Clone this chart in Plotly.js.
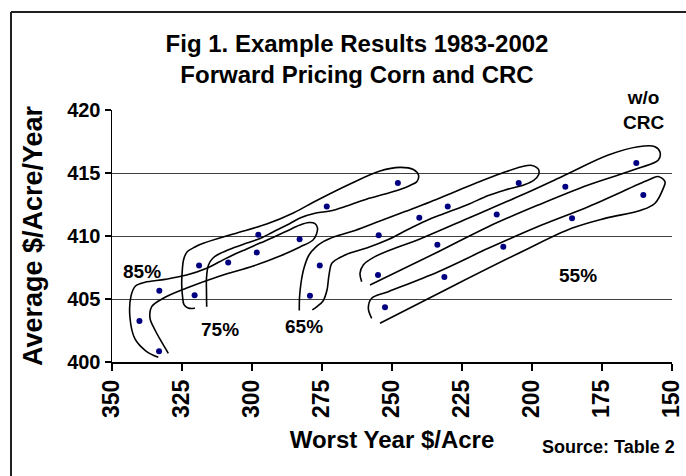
<!DOCTYPE html>
<html>
<head>
<meta charset="utf-8">
<script src="https://cdn.plot.ly/plotly-3.0.1.min.js"></script>
<style>
html,body{margin:0;padding:0;background:#fff;}
#chart{width:686px;height:476px;}
</style>
</head>
<body>
<div id="chart"></div>
<script>
// ---- Data ----
// Points (Worst Year $/Acre, Average $/Acre/Year), grouped by the outlined groups
var g85_x = [340.2, 333.2, 333.1, 308.5, 298.3, 283.0];
var g85_y = [403.25, 400.85, 405.65, 407.9, 408.7, 409.75];
var g75_x = [320.5, 318.9, 297.75, 273.3, 247.9];
var g75_y = [405.3, 407.65, 410.1, 412.35, 414.2];
var g65_x = [279.3, 275.8, 254.75, 240.25, 230.1, 204.75];
var g65_y = [405.25, 407.65, 410.05, 411.45, 412.35, 414.2];
var gNo_x = [255.0, 233.8, 212.6, 188.1, 162.75];
var gNo_y = [406.9, 409.3, 411.7, 413.9, 415.8];
var g55_x = [252.5, 231.3, 210.25, 185.7, 160.25];
var g55_y = [404.35, 406.75, 409.15, 411.4, 413.25];

// Hand-drawn outlines around the groups (data coordinates)
var o85_x = [333.46,337.86,341.79,343.57,343.21,341.61,338.21,331.07,323.32,316.18,311.43,306.79,301.89,297.14,292.5,287.5,282.86,279.64,277.5,276.61,276.96,278.21,282.86,290,299.54,311.43,323.32,331.68,335.82,336.43,334.64,332.5,329.89];
var o85_y = [400.37,400.87,401.83,403.49,405.24,406.03,406.33,406.56,406.90,407.44,407.98,408.49,408.97,409.44,409.88,410.40,410.87,411.07,410.99,410.63,410.16,409.68,409.13,408.41,407.62,406.83,405.87,405.06,404.39,403.49,402.54,401.67,400.69];
var o75_x = [320.36,322.86,324.29,324.82,325.11,324.89,324.46,323.21,320.36,317.39,306.68,294.75,285.25,276.89,265,254.29,247.14,242.39,240.54,241.07,243.57,247.14,252.5,258.93,266.18,272.14,277.14,282.86,287.5,292.5,297.14,301.89,306.79,311.43,313.93,315.54,316.25,316.25,316.18];
var o75_y = [404.26,404.29,404.56,405.24,406.19,407.30,408.10,408.73,409.13,409.42,410.16,410.95,411.83,412.82,414.13,415.16,415.45,415.28,414.84,414.33,414.01,413.69,413.33,412.94,412.38,411.98,411.83,411.43,410.87,410.32,409.80,409.44,409.05,408.61,408.25,407.70,406.67,405.56,404.39];
var o65_x = [283.11,283.04,282.5,281.43,279.64,277.14,274.54,270.36,263.21,254.29,245.36,236.43,227.5,218.57,210.82,203.68,200,197.68,197.68,199.29,202.5,209.64,215.61,222.86,229.89,236.43,243.57,251.32,259.04,265,268.57,271.43,272.5,273.21,274.64,276.79,278.46];
var o65_y = [404.09,405.08,406.27,407.46,408.49,409.13,409.55,409.96,410.44,411.19,411.94,412.70,413.52,414.33,414.98,415.50,415.60,415.28,414.84,414.44,414.09,413.65,413.21,412.50,411.90,411.35,410.60,409.72,409.05,408.65,408.29,407.86,406.90,405.71,404.84,404.40,404.13];
var oNo_x = [260.82,261.43,260.25,256.07,239.39,221.54,203.68,189.39,172.75,162.04,156.07,154.29,154.89,162.04,179.89,197.75,215.61,233.46,257.86];
var oNo_y = [406.37,407.04,407.70,408.36,409.82,411.53,413.25,414.71,416.43,417.09,417.09,416.67,416.03,415.37,414.05,412.46,410.74,408.75,406.11];
var o55_x = [257.25,258.46,257.25,251.32,233.46,215.61,196.54,179.89,158.46,155,152.5,153.11,156.07,160.82,173.93,185.82,203.68,227.5,254.29];
var o55_y = [403.47,404.26,405.06,405.58,407.17,409.02,410.87,412.33,414.44,414.72,414.31,413.79,412.60,412.06,411.40,410.61,408.75,406.11,403.07];

// Group labels
var labelText = ["85%", "75%", "65%", "55%", "w/o<br>CRC"];
var labelX = [339.3, 311.4, 281.4, 183.6, 160.2];
var labelY = [407.2, 402.6, 402.8, 406.9, 420.0];

var xTicks = [350, 325, 300, 275, 250, 225, 200, 175, 150];
var yTicks = [400, 405, 410, 415, 420];

// ---- Plot ----
var FONT = "Liberation Sans, Arial, Helvetica, sans-serif";
var dotColor = "#000080";

function outline(xs, ys) {
  return {x: xs, y: ys, mode: "lines", type: "scatter", hoverinfo: "skip",
          line: {color: "#000000", width: 1.6, shape: "spline", smoothing: 1}, showlegend: false};
}
function pts(xs, ys) {
  return {x: xs, y: ys, mode: "markers", type: "scatter",
          marker: {color: dotColor, size: 6}, showlegend: false};
}

var traces = [
  outline(o85_x, o85_y), outline(o75_x, o75_y), outline(o65_x, o65_y),
  outline(oNo_x, oNo_y), outline(o55_x, o55_y),
  pts(g85_x, g85_y), pts(g75_x, g75_y), pts(g65_x, g65_y),
  pts(gNo_x, gNo_y), pts(g55_x, g55_y)
];

var annotations = [];
for (var i = 0; i < labelText.length; i++) {
  annotations.push({x: labelX[i], y: labelY[i], xref: "x", yref: "y", text: labelText[i],
    showarrow: false, font: {family: FONT, size: 19, weight: "bold", color: "#000"},
    xanchor: "center", yanchor: "middle"});
}
annotations.push({x: (608 - 112) / 560, y: (362 - 447) / 252, xref: "paper", yref: "paper",
  text: "Source: Table 2", showarrow: false,
  font: {family: FONT, size: 18, weight: "bold", color: "#000"}, xanchor: "center", yanchor: "middle"});

var borderX = (11 - 112) / 560;
var borderY = (362 - 12) / 252;

var layout = {
  width: 686, height: 476,
  margin: {l: 112, r: 14, t: 110, b: 114},
  paper_bgcolor: "#ffffff", plot_bgcolor: "#ffffff",
  title: {text: "Fig 1. Example Results 1983-2002<br>Forward Pricing Corn and CRC",
          font: {family: FONT, size: 24, weight: "bold", color: "#000"},
          xref: "container", x: 357 / 686, xanchor: "center",
          yref: "container", y: 1 - 52 / 476, yanchor: "top"},
  xaxis: {range: [350, 150], tickvals: xTicks, ticktext: xTicks.map(String),
          tickangle: -90, showgrid: false, zeroline: false,
          showline: true, linecolor: "#000", linewidth: 1.5,
          ticks: "outside", ticklen: 7, tickcolor: "#000", tickwidth: 1.5,
          tickfont: {family: FONT, size: 23, weight: "bold", color: "#000"},
          title: {text: "Worst Year $/Acre", standoff: 14,
                  font: {family: FONT, size: 24, weight: "bold", color: "#000"}}},
  yaxis: {range: [400, 420], tickvals: yTicks, ticktext: yTicks.map(String),
          showgrid: true, gridcolor: "#404040", gridwidth: 1, zeroline: false,
          showline: true, linecolor: "#000", linewidth: 1.5,
          ticks: "outside", ticklen: 6, tickcolor: "#000", tickwidth: 1.5,
          tickfont: {family: FONT, size: 20, weight: "bold", color: "#000"},
          title: {text: "Average $/Acre/Year", standoff: 16,
                  font: {family: FONT, size: 27, weight: "bold", color: "#000"}}},
  annotations: annotations,
  shapes: [
    {type: "line", xref: "paper", yref: "paper", x0: borderX, x1: borderX, y0: -0.6, y1: borderY,
     line: {color: "#202020", width: 2}, layer: "above"},
    {type: "line", xref: "paper", yref: "paper", x0: borderX, x1: 1.2, y0: borderY, y1: borderY,
     line: {color: "#202020", width: 2}, layer: "above"}
  ]
};

Plotly.newPlot("chart", traces, layout, {displayModeBar: false, staticPlot: true});
</script>
</body>
</html>
